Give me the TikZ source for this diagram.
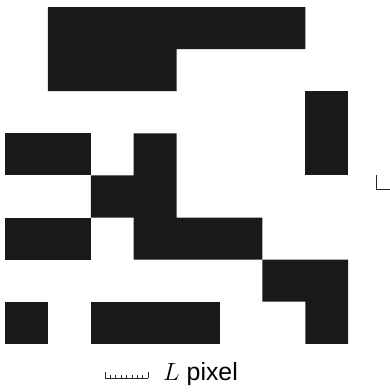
\documentclass[tikz,border=0pt]{standalone}
\usepackage{fontspec}
\setsansfont{Liberation Sans}
\usetikzlibrary{positioning,calc}
\tikzset{
  pixblock/.style={fill=black!90,draw=none},
  scalebar/.style={draw=black!85,line width=0.8pt},
  lbl/.style={font=\sffamily\Huge,inner sep=0pt,anchor=base west},
}
\begin{document}
\begin{tikzpicture}[x=1pt,y=-1pt]
  \useasboundingbox (0,0) rectangle (390,392);

  % pixel blocks on the 8x8 grid
  \begin{scope}[shift={(5,7)},x=42.9pt,y=-42.1pt]
    \fill[pixblock] (1,0) -- (7,0) -- (7,1) -- (4,1) -- (4,2) -- (1,2) -- cycle;
    \fill[pixblock] (7,2) rectangle (8,4);
    \fill[pixblock] (0,3) rectangle (2,4);
    \fill[pixblock] (3,3) -- (4,3) -- (4,5) -- (6,5) -- (6,6) -- (3,6) -- (3,5)
      -- (2,5) -- (2,4) -- (3,4) -- cycle;
    \fill[pixblock] (0,5) rectangle (2,6);
    \fill[pixblock] (6,6) -- (8,6) -- (8,8) -- (7,8) -- (7,7) -- (6,7) -- cycle;
    \fill[pixblock] (0,7) rectangle (1,8);
    \fill[pixblock] (2,7) rectangle (5,8);
  \end{scope}

  % scale bar (one pixel length L)
  \coordinate (sbl) at (105,378);
  \coordinate (sbr) at (148,378);
  \draw[scalebar] (sbl) -- (sbr);
  \draw[scalebar] (sbl) -- ++(0,-6);
  \draw[scalebar] (sbr) -- ++(0,-6);
  \foreach \i in {1,...,7}
    \draw[scalebar,line width=0.6pt] ($(sbl)!\i/8!(sbr)$) -- ++(0,-3);
  \node[lbl] (lpix) at (163,380) {$L$ pixel};

  % cut-off mark at right edge
  \coordinate (rm) at (376,189);
  \draw[scalebar] (376,175) -- (rm) -- (390,189);
\end{tikzpicture}
\end{document}
